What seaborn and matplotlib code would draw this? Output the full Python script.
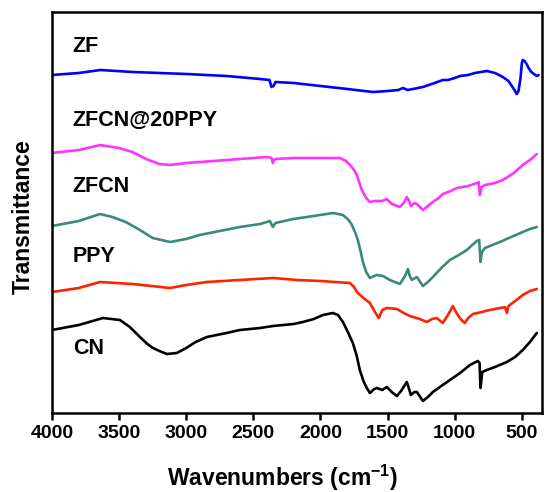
import numpy as np
import pandas as pd
import matplotlib
matplotlib.use("Agg")
import matplotlib.pyplot as plt
import seaborn as sns

# ---- data (relative transmittance, arbitrary offset units) ----
zf_w = [4000, 3800, 3640, 3400, 3000, 2700, 2450, 2380, 2365, 2350, 2335, 2200, 2000,
        1800, 1610, 1500, 1420, 1386, 1350, 1237, 1150, 1089, 1050, 1000, 960, 900,
        850, 761, 700, 642, 600, 560, 538, 525, 510, 500, 493, 480, 465, 450, 430,
        410, 389, 375]
zf_t = [338, 340, 343, 341, 339, 337, 334, 333, 326, 327, 331, 330, 327,
        324, 321, 322, 323, 325, 323, 326, 330, 333, 333, 335, 337, 338,
        340, 342, 340, 336, 332, 324, 319, 322, 335, 350, 353, 352, 349, 345, 341,
        339, 337, 338]

zfpp_w = [4000, 3800, 3640, 3500, 3400, 3300, 3200, 3121, 3000, 2800, 2600, 2400, 2365,
          2355, 2340, 2200, 2000, 1855, 1810, 1781, 1750, 1729, 1710, 1692, 1660, 1632,
          1600, 1580, 1540, 1506, 1468, 1409, 1380, 1357, 1340, 1327, 1300, 1282, 1237,
          1200, 1163, 1120, 1089, 1030, 984, 900, 835, 822, 813, 800, 775, 700, 642,
          560, 493, 440, 389]
zfpp_t = [260, 263, 268, 265, 261, 254, 249, 248, 250, 252, 254, 256, 255,
          250, 254, 255, 255, 255, 252, 248, 243, 238, 230, 223, 215, 211,
          212, 212, 212, 214, 209, 206, 210, 216, 212, 207, 210, 209, 203,
          207, 211, 215, 219, 222, 225, 227, 230, 231, 218, 226, 228, 230, 233,
          240, 248, 253, 259]

zfcn_w = [4000, 3800, 3643, 3550, 3450, 3345, 3250, 3121, 3000, 2900, 2750, 2600, 2450,
          2377, 2355, 2335, 2205, 2050, 1908, 1833, 1790, 1766, 1740, 1722, 1700, 1684,
          1660, 1632, 1600, 1580, 1535, 1483, 1409, 1370, 1349, 1335, 1320, 1282, 1237,
          1200, 1163, 1100, 1036, 970, 910, 870, 835, 818, 808, 798, 775, 720, 664,
          580, 493, 440, 389]
zfcn_t = [187, 192, 199, 196, 191, 183, 175, 171, 174, 178, 182, 186, 189,
          192, 186, 190, 194, 197, 200, 198, 193, 188, 180, 173, 161, 151,
          141, 135, 137, 138, 137, 133, 129, 137, 144, 137, 133, 136, 127,
          131, 136, 145, 153, 158, 163, 168, 172, 173, 151, 161, 165, 168, 171,
          176, 181, 184, 186]

ppy_w = [4000, 3800, 3643, 3400, 3121, 3000, 2846, 2600, 2354, 2176, 2000, 1781, 1750,
         1729, 1680, 1632, 1590, 1565, 1540, 1506, 1431, 1380, 1334, 1260, 1208, 1170,
         1134, 1089, 1051, 1030, 1014, 995, 977, 950, 925, 900, 865, 800, 739, 660,
         625, 612, 600, 550, 493, 440, 389]
ppy_t = [121, 125, 131, 129, 125, 128, 131, 133, 135, 133, 132, 130, 126,
         121, 115, 110, 100, 95, 103, 105, 104, 100, 97, 94, 91, 94,
         95, 90, 98, 103, 107, 102, 98, 93, 90, 95, 99, 101, 103, 105,
         106, 100, 107, 112, 118, 122, 124]

cn_w = [4000, 3800, 3620, 3494, 3420, 3345, 3290, 3248, 3200, 3144, 3070, 3000, 2930,
        2846, 2700, 2600, 2450, 2354, 2200, 2131, 2050, 1982, 1908, 1870, 1833, 1800,
        1759, 1730, 1707, 1680, 1655, 1632, 1600, 1580, 1540, 1506, 1470, 1431, 1400,
        1357, 1340, 1327, 1300, 1282, 1237, 1200, 1163, 1100, 1036, 960, 887, 828,
        815, 808, 795, 761, 700, 612, 550, 493, 440, 389]
cn_t = [83, 88, 95, 93, 86, 76, 69, 65, 62, 59, 60, 65, 71,
        76, 80, 83, 85, 87, 89, 91, 94, 98, 100, 98, 91, 82,
        70, 57, 43, 32, 25, 20, 24, 25, 23, 26, 21, 17, 22,
        31, 24, 18, 21, 21, 12, 16, 21, 27, 33, 40, 48, 52,
        50, 25, 41, 43, 46, 51, 56, 63, 71, 80]

names = ["ZF", "ZFCN@20PPY", "ZFCN", "PPY", "CN"]
colors = ["#0000FF", "#FF33FF", "#3A8A7C", "#FF2200", "#000000"]
label_y = [367, 293, 227, 156, 65]  # label heights in data units
x_ticks = [4000, 3500, 3000, 2500, 2000, 1500, 1000, 500]

series = [(zf_w, zf_t), (zfpp_w, zfpp_t), (zfcn_w, zfcn_t), (ppy_w, ppy_t), (cn_w, cn_t)]

sns.set_style("white")
plt.rcParams["font.family"] = ["Liberation Sans", "DejaVu Sans"]
plt.rcParams["font.weight"] = "bold"
plt.rcParams["text.color"] = "black"
plt.rcParams["axes.labelcolor"] = "black"
plt.rcParams["xtick.color"] = "black"
plt.rcParams["mathtext.fontset"] = "custom"
plt.rcParams["mathtext.rm"] = "Liberation Sans:bold"
plt.rcParams["mathtext.bf"] = "Liberation Sans:bold"
plt.rcParams["mathtext.default"] = "bf"

fig = plt.figure(figsize=(5.44, 4.92), dpi=100)
ax = fig.add_axes([52 / 544, 1 - 413 / 492, 490 / 544, 401 / 492])

for name, col, (w, t) in zip(names, colors, series):
    df = pd.DataFrame({"w": w, "t": t})
    sns.lineplot(data=df, x="w", y="t", color=col, lw=1.9, ax=ax, sort=False,
                 estimator=None)

for name, ly in zip(names, label_y):
    ax.text(3845, ly, name, fontsize=15.5, fontweight="bold", ha="left",
            va="center", color="black")

ax.set_xlim(4000, 350)
ax.set_ylim(0, 401)
ax.set_xticks(x_ticks)
ax.set_xticklabels([str(v) for v in x_ticks], fontsize=14, fontweight="bold")
ax.set_yticks([])
ax.tick_params(axis="x", direction="out", length=5, width=1.8, bottom=True, pad=4)
for s in ax.spines.values():
    s.set_linewidth(1.8)
    s.set_color("black")
ax.set_xlabel("Wavenumbers (cm$^{-1}$)", fontsize=16.5, fontweight="bold")
ax.xaxis.set_label_coords(0.47, -0.125)
ax.set_ylabel("Transmittance", fontsize=16.5, fontweight="bold")
ax.yaxis.set_label_coords(-0.035, 0.49)

fig.savefig("out.png", dpi=100)
